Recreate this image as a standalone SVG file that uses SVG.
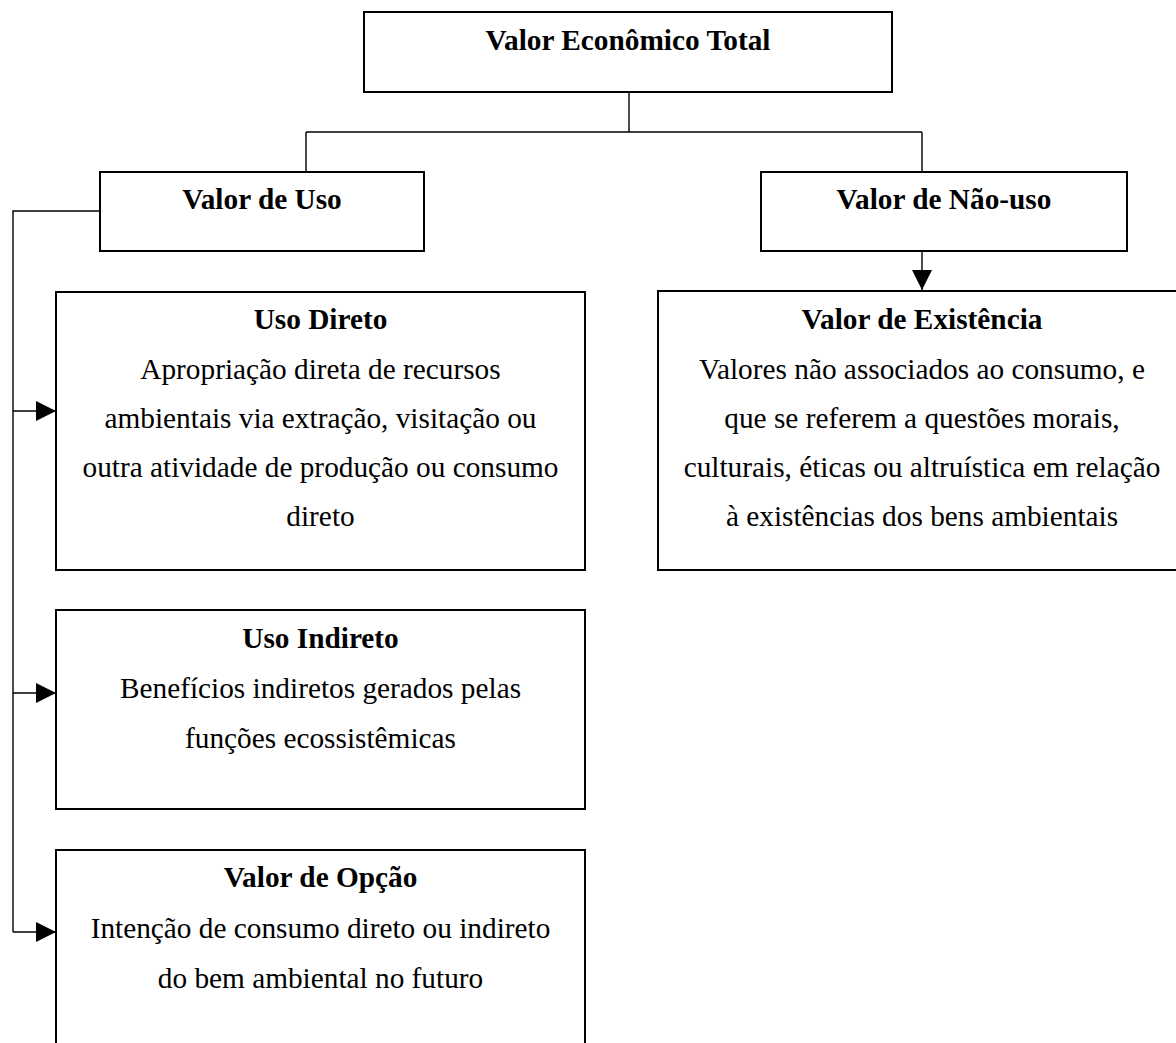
<svg xmlns="http://www.w3.org/2000/svg" width="1176" height="1043" viewBox="0 0 1176 1043">
<defs>
<style>
.box{fill:#fff;stroke:#000;stroke-width:2}
.ln{fill:none;stroke:#000;stroke-width:1.4}
.h{font-family:"Liberation Serif","Times New Roman",serif;font-weight:bold;font-size:29.3px;text-anchor:middle;fill:#000}
.t{font-family:"Liberation Serif","Times New Roman",serif;font-size:29.3px;text-anchor:middle;fill:#000}
</style>
<marker id="ar" viewBox="0 0 20 20" refX="20" refY="10" markerWidth="20" markerHeight="20" markerUnits="userSpaceOnUse" orient="auto">
<path d="M0,0 L20,10 L0,20 Z" fill="#000"/>
</marker>
</defs>
<rect width="1176" height="1043" fill="#fff"/>
<g id="connectors">
<path class="ln" d="M629,92 V132 M306,132 H922 M306,132 V172 M922,132 V172"/>
<path class="ln" d="M922,251 V290" marker-end="url(#ar)"/>
<path class="ln" d="M100,211 H13 V932"/>
<path class="ln" d="M13,411 H56" marker-end="url(#ar)"/>
<path class="ln" d="M13,693 H56" marker-end="url(#ar)"/>
<path class="ln" d="M13,932 H56" marker-end="url(#ar)"/>
</g>
<g id="total">
<rect class="box" x="364" y="12" width="528" height="80"/>
<text class="h" x="628" y="50">Valor Econômico Total</text>
</g>
<g id="uso">
<rect class="box" x="100" y="172" width="324" height="79"/>
<text class="h" x="262" y="209">Valor de Uso</text>
</g>
<g id="naouso">
<rect class="box" x="761" y="172" width="366" height="79"/>
<text class="h" x="944" y="209">Valor de Não-uso</text>
</g>
<g id="usodireto">
<rect class="box" x="56" y="292" width="529" height="278"/>
<text class="h" x="320.5" y="329">Uso Direto</text>
<text class="t" x="320.5" y="379">Apropriação direta de recursos</text>
<text class="t" x="320.5" y="428">ambientais via extração, visitação ou</text>
<text class="t" x="320.5" y="477">outra atividade de produção ou consumo</text>
<text class="t" x="320.5" y="526">direto</text>
</g>
<g id="existencia">
<rect class="box" x="658" y="291" width="529" height="279"/>
<text class="h" x="922" y="329">Valor de Existência</text>
<text class="t" x="922" y="379">Valores não associados ao consumo, e</text>
<text class="t" x="922" y="428">que se referem a questões morais,</text>
<text class="t" x="922" y="477">culturais, éticas ou altruística em relação</text>
<text class="t" x="922" y="526">à existências dos bens ambientais</text>
</g>
<g id="usoindireto">
<rect class="box" x="56" y="610" width="529" height="199"/>
<text class="h" x="320.5" y="648">Uso Indireto</text>
<text class="t" x="320.5" y="698">Benefícios indiretos gerados pelas</text>
<text class="t" x="320.5" y="748">funções ecossistêmicas</text>
</g>
<g id="opcao">
<rect class="box" x="56" y="850" width="529" height="200"/>
<text class="h" x="320.5" y="887">Valor de Opção</text>
<text class="t" x="320.5" y="938">Intenção de consumo direto ou indireto</text>
<text class="t" x="320.5" y="988">do bem ambiental no futuro</text>
</g>
</svg>
